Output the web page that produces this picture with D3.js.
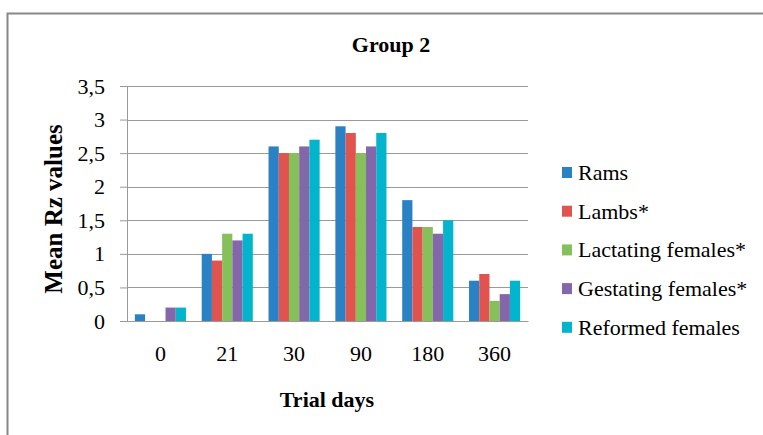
<!DOCTYPE html>
<html lang="en">
<head>
<meta charset="utf-8">
<title>Group 2</title>
<script src="https://d3js.org/d3.v7.min.js"></script>
<style>
  body { margin: 0; background: #fff; }
  svg text { fill: #000; }
</style>
</head>
<body>
<script>
// data
var days = ["0", "21", "30", "90", "180", "360"];
var seriesNames = ["Rams", "Lambs*", "Lactating females*", "Gestating females*", "Reformed females"];
var rams       = [0.1, 1.0, 2.6, 2.9, 1.8, 0.6];
var lambs      = [0,   0.9, 2.5, 2.8, 1.4, 0.7];
var lactating  = [0,   1.3, 2.5, 2.5, 1.4, 0.3];
var gestating  = [0.2, 1.2, 2.6, 2.6, 1.3, 0.4];
var reformed   = [0.2, 1.3, 2.7, 2.8, 1.5, 0.6];
var yTicks = [0, 0.5, 1, 1.5, 2, 2.5, 3, 3.5];

var colors = ["#2a82c4", "#e0534f", "#86c05a", "#8466aa", "#02b5cc"];
var allSeries = [rams, lambs, lactating, gestating, reformed];

var W = 763, H = 435;
var plotLeft = 127, plotRight = 528, plotTop = 86, plotBottom = 321;
var serif = "Liberation Serif, LiberationSerif, Tinos, DejaVu Serif, serif";

var svg = d3.select("body").append("svg")
  .attr("width", W)
  .attr("height", H);

// outer frame (runs off the right and bottom edges)
svg.append("path")
  .attr("d", "M7.5," + H + "V13.5H" + W)
  .attr("fill", "none")
  .attr("stroke", "#888")
  .attr("stroke-width", 2);

var x0 = d3.scaleBand().domain(days).range([plotLeft, plotRight]).padding(0);
var x1 = d3.scaleBand().domain(seriesNames).range([0, x0.bandwidth()])
  .paddingInner(0).paddingOuter(0.77);
var y = d3.scaleLinear().domain([0, 3.5]).range([plotBottom, plotTop]);

// gridlines
svg.append("g").selectAll("line")
  .data(yTicks)
  .enter()
  .append("line")
  .attr("x1", plotLeft)
  .attr("x2", plotRight)
  .attr("y1", function(d){ return Math.round(y(d)) + 0.5; })
  .attr("y2", function(d){ return Math.round(y(d)) + 0.5; })
  .attr("stroke", "#999")
  .attr("stroke-width", 1);

// y axis
var yAxis = svg.append("g")
  .attr("transform", "translate(" + plotLeft + ",0)")
  .call(d3.axisLeft(y).tickValues(yTicks).tickSize(7).tickPadding(15)
    .tickFormat(function(d){ return String(d).replace(".", ","); }));
yAxis.attr("font-family", serif).attr("font-size", 22);
yAxis.select(".domain").attr("stroke", "#999");
yAxis.selectAll(".tick line").attr("stroke", "#999");
yAxis.selectAll(".tick text").attr("fill", "#000");

// bars
var groups = svg.append("g").selectAll("g")
  .data(days)
  .enter()
  .append("g")
  .attr("transform", function(d){ return "translate(" + x0(d) + ",0)"; });

groups.selectAll("rect")
  .data(function(d, i){
    return allSeries.map(function(s, k){ return {name: seriesNames[k], value: s[i], k: k}; });
  })
  .enter()
  .append("rect")
  .attr("x", function(d){ return x1(d.name); })
  .attr("width", x1.bandwidth())
  .attr("y", function(d){ return y(d.value); })
  .attr("height", function(d){ return plotBottom - y(d.value); })
  .attr("fill", function(d){ return colors[d.k]; });

// x axis
var xAxis = svg.append("g")
  .attr("transform", "translate(0," + plotBottom + ")")
  .call(d3.axisBottom(x0).tickSize(0).tickPadding(24));
xAxis.attr("font-family", serif).attr("font-size", 22);
xAxis.select(".domain").attr("stroke", "#999");
xAxis.selectAll(".tick text").attr("fill", "#000");

// title
svg.append("text")
  .attr("x", 391)
  .attr("y", 52)
  .attr("text-anchor", "middle")
  .attr("font-family", serif)
  .attr("font-size", 22)
  .attr("font-weight", "bold")
  .text("Group 2");

// axis titles
svg.append("text")
  .attr("x", 327)
  .attr("y", 407)
  .attr("text-anchor", "middle")
  .attr("font-family", serif)
  .attr("font-size", 22)
  .attr("font-weight", "bold")
  .text("Trial days");

svg.append("text")
  .attr("transform", "translate(62,209) rotate(-90)")
  .attr("text-anchor", "middle")
  .attr("font-family", serif)
  .attr("font-size", 25)
  .attr("font-weight", "bold")
  .text("Mean Rz values");

// legend
var legend = svg.append("g").selectAll("g")
  .data(seriesNames)
  .enter()
  .append("g")
  .attr("transform", function(d, i){ return "translate(562," + (180 + i * 38.7) + ")"; });

legend.append("rect")
  .attr("x", 0)
  .attr("y", -13)
  .attr("width", 10)
  .attr("height", 11)
  .attr("fill", function(d, i){ return colors[i]; });

legend.append("text")
  .attr("x", 16)
  .attr("y", 0)
  .attr("font-family", serif)
  .attr("font-size", 22)
  .text(function(d){ return d; });
</script>
</body>
</html>
